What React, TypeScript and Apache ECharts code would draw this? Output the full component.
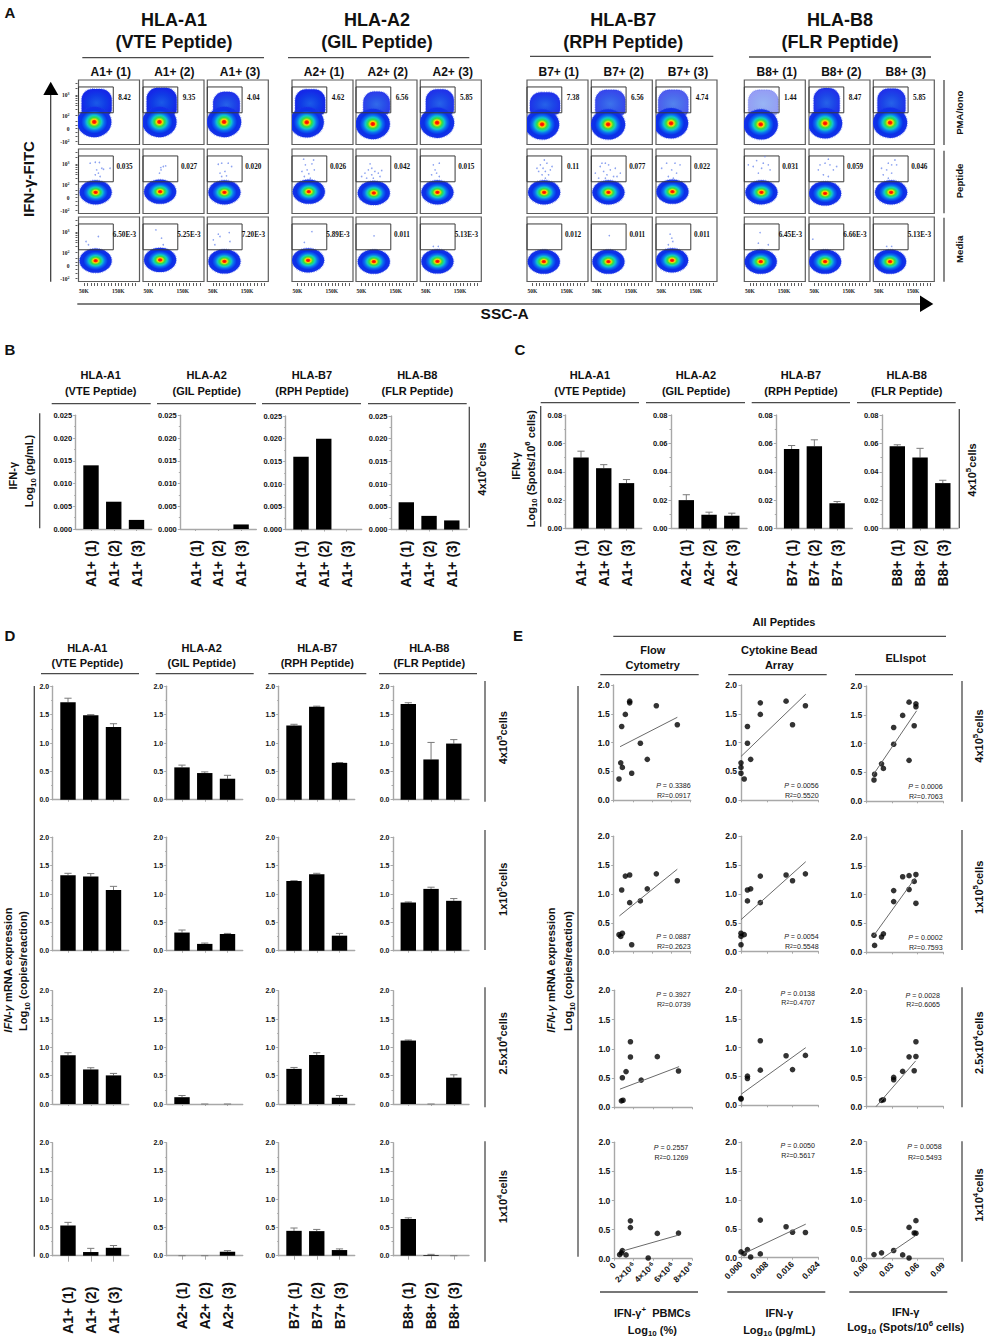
import React, { useEffect, useRef } from "react";
import * as echarts from "echarts";

/* ---------- Panel A: flow cytometry ---------- */
const flowPeptides = ["HLA-A1", "HLA-A2", "HLA-B7", "HLA-B8"];
const flowPeptideNames = ["(VTE Peptide)", "(GIL Peptide)", "(RPH Peptide)", "(FLR Peptide)"];
const flowSamples = ["A1+ (1)", "A1+ (2)", "A1+ (3)", "A2+ (1)", "A2+ (2)", "A2+ (3)", "B7+ (1)", "B7+ (2)", "B7+ (3)", "B8+ (1)", "B8+ (2)", "B8+ (3)"];
const flowConditions = ["PMA/Iono", "Peptide", "Media"];
const gatePmaIono = ["8.42", "9.35", "4.04", "4.62", "6.56", "5.85", "7.38", "6.56", "4.74", "1.44", "8.47", "5.85"];
const gatePeptide = ["0.035", "0.027", "0.020", "0.026", "0.042", "0.015", "0.11", "0.077", "0.022", "0.031", "0.059", "0.046"];
const gateMedia = ["6.50E-3", "5.25E-3", "7.20E-3", "5.89E-3", "0.011", "5.13E-3", "0.012", "0.011", "0.011", "6.45E-3", "6.66E-3", "5.13E-3"];
// main population: centre on SSC (K) and on the display scale of IFN-γ
const coreXPma = [80, 82, 83, 77, 83, 83, 78, 83, 78, 82, 81, 83];
const coreYPma = [0.52, 0.52, 0.52, 0.49, 0.36, 0.46, 0.33, 0.33, 0.41, 0.33, 0.41, 0.46];
const coreXPeptide = [84, 84, 84, 83, 86, 84, 84, 84, 82, 84, 81, 86];
const coreYPeptide = [0.41, 0.46, 0.41, 0.46, 0.36, 0.41, 0.41, 0.41, 0.46, 0.41, 0.33, 0.41];
const coreXMedia = [84, 84, 84, 81, 86, 84, 83, 84, 81, 82, 81, 83];
const coreYMedia = [0.38, 0.44, 0.33, 0.41, 0.31, 0.33, 0.31, 0.31, 0.41, 0.31, 0.31, 0.31];
// IFN-γ+ population under PMA/Iono
const upperX = [87, 88.5, 90, 87, 94, 91, 86.5, 89.5, 84.5, 89.5, 85.6, 87];
const upperRx = [44, 44, 39, 44, 39, 41, 44, 44, 44, 44, 38, 41];
const upperY = [2.08, 2.12, 1.95, 2.05, 1.98, 2.05, 1.95, 2.02, 2.02, 2.02, 2.1, 2.08];
const upperRy = [1.0, 1.05, 0.9, 1.0, 0.9, 1.0, 0.88, 1.0, 1.0, 1.0, 1.05, 1.03];
const upperDensity = [1, 1, 0.95, 1, 0.9, 0.95, 0.95, 0.85, 0.75, 0.45, 0.95, 0.95];
// rare events
const eventsPeptide = [
  [[68, 2.67], [83, 2.74], [95, 2.72], [87, 2.15], [92, 1.9], [102, 2.28], [126, 2.28], [83, 1.77], [97, 1.64], [107, 2.2]],
  [[86, 2.33], [93.3, 2.41], [100, 2.46], [82, 1.9], [86.5, 2.15]],
  [[66, 2.59], [76, 2.67], [95, 2.67], [105, 2.41], [71, 1.9], [85.5, 2.03], [76, 1.64], [90, 1.69]],
  [[68, 2.98], [97, 2.92], [73, 2.54], [92, 2.62], [78, 2.15], [83, 1.85], [63, 2.03], [99, 2.15], [87.5, 1.51], [70, 1.64]],
  [[75, 2.62], [80, 2.28], [70, 2.15], [89, 2.03], [99, 1.9], [60, 1.9], [80, 1.77], [50.5, 1.64], [109, 2.1], [84.5, 1.51], [65, 1.51], [104, 1.64]],
  [[72, 2.54], [89.4, 2.67], [77, 2.15], [81.6, 1.9], [67, 1.77], [89.4, 1.64]],
  [[84.5, 2.92], [73, 2.54], [92, 2.67], [80.7, 2.28], [102, 2.15], [68, 2.03], [87.5, 2.03], [97, 1.77], [78, 1.77], [107, 2.41], [87.5, 1.51], [63, 2.28]],
  [[75, 2.67], [84.5, 2.54], [60, 2.41], [89.4, 2.15], [70, 2.03], [104, 2.28], [45.7, 1.9], [79.7, 1.77], [99, 1.64], [55.4, 1.51], [118.6, 1.9], [75, 1.51], [65, 2.67], [109, 1.64]],
  [[65, 2.67], [89.4, 2.67], [104, 2.54], [79.7, 2.15], [94, 1.9], [70, 1.64], [84.5, 1.51], [50.5, 2.28]],
  [[94, 3.18], [70, 2.87], [89.4, 2.67], [104, 2.54], [60, 2.41], [84.5, 2.28], [109, 2.15], [75, 1.9], [45.7, 2.54]],
  [[90.4, 2.98], [66, 2.54], [80.8, 2.67], [95, 2.54], [105, 2.15], [61, 2.15], [76, 1.77], [90.4, 1.64], [114.7, 2.41]],
  [[97, 2.92], [77.7, 2.67], [87.5, 2.54], [72.9, 2.15], [102, 2.54], [63, 1.77], [87.5, 1.9], [77.7, 1.51], [58, 2.28]],
];
const eventsMedia = [
  [[92, 2.26], [56, 1.87], [63, 1.62]],
  [[88, 2.13], [71.5, 2.77], [93, 1.62]],
  [[66, 2.44], [98, 2.56], [51.5, 2], [71, 2.26], [100, 1.87], [56, 1.62]],
  [[92, 2.64], [70, 1.8]],
  [[86.5, 2.31]],
  [[72, 1.49], [86.5, 1.49]],
  [],
  [[86.5, 2.33]],
  [[75, 2.44], [80, 2.13], [83, 1.87], [70, 1.62]],
  [[80, 2.56], [75, 1.74], [104, 1.62]],
  [[45, 2.05]],
  [[73, 1.49], [87.5, 1.49]],
];

/* ---------- Panels B, C: cytokine bars ---------- */
const peptideHeads = ["HLA-A1", "HLA-A2", "HLA-B7", "HLA-B8"];
const peptideSubs = ["(VTE Peptide)", "(GIL Peptide)", "(RPH Peptide)", "(FLR Peptide)"];
const labelsA1 = ["A1+ (1)", "A1+ (2)", "A1+ (3)"];
const labelsA2 = ["A2+ (1)", "A2+ (2)", "A2+ (3)"];
const labelsB7 = ["B7+ (1)", "B7+ (2)", "B7+ (3)"];
const labelsB8 = ["B8+ (1)", "B8+ (2)", "B8+ (3)"];
const cbaValues = [0.014, 0.006, 0.002, 0, 0, 0.001, 0.016, 0.02, 0, 0.006, 0.003, 0.002];
const elispotValues = [0.05, 0.0425, 0.032, 0.02, 0.0097, 0.009, 0.056, 0.058, 0.0178, 0.058, 0.05, 0.032];
const elispotErrTop = [0.0545, 0.045, 0.0345, 0.0238, 0.0115, 0.0108, 0.0585, 0.0625, 0.019, 0.059, 0.0565, 0.034];

/* ---------- Panel D: mRNA bars ---------- */
const mrna4e5 = [1.72, 1.49, 1.28, 0.57, 0.47, 0.37, 1.31, 1.64, 0.65, 1.69, 0.71, 0.99];
const mrna4e5Err = [1.79, 1.5, 1.34, 0.61, 0.49, 0.43, 1.33, 1.65, 0.655, 1.71, 1.01, 1.06];
const mrna1e5 = [1.33, 1.31, 1.07, 0.32, 0.12, 0.295, 1.23, 1.35, 0.265, 0.85, 1.09, 0.88];
const mrna1e5Err = [1.365, 1.36, 1.135, 0.365, 0.135, 0.305, 1.235, 1.365, 0.305, 0.86, 1.12, 0.92];
const mrna25e4 = [0.86, 0.61, 0.505, 0.12, 0, 0, 0.62, 0.865, 0.11, 1.12, 0, 0.465];
const mrna25e4Err = [0.905, 0.64, 0.54, 0.15, 0, 0, 0.645, 0.905, 0.15, 1.13, 0, 0.515];
const mrna1e4 = [0.535, 0.065, 0.14, 0, 0, 0.07, 0.44, 0.435, 0.1, 0.65, 0.012, 0];
const mrna1e4Err = [0.59, 0.13, 0.18, 0, 0, 0.09, 0.49, 0.465, 0.12, 0.67, 0.024, 0];

/* ---------- Panel E: correlations ---------- */
const flowFrequency = [1.66, 1.21, 0.83, 0.9, 1.87, 0.55, 6.61, 4.43, 0.73, 1.66, 3.49, 2.77];
const regFlow = [
  [[0.66, 0.93], [6.61, 1.44]],
  [[0.59, 0.62], [6.61, 1.43]],
  [[0.58, 0.31], [6.67, 0.695]],
  [[0.92, 0.135], [6.6, 0.405]],
];
const regCba = [
  [[0, 0.76], [0.0201, 1.84]],
  [[0, 0.555], [0.0201, 1.56]],
  [[0, 0.19], [0.0201, 1.0]],
  [[0.001, 0.075], [0.0201, 0.58]],
];
const regElispot = [
  [[0.0074, 0.445], [0.0588, 1.57]],
  [[0.0082, 0.28], [0.0577, 1.3]],
  [[0.0113, 0], [0.0577, 0.79]],
  [[0.018, 0], [0.0577, 0.395]],
];
const statsP = [
  ["0.3386", "0.0056", "0.0006"],
  ["0.0887", "0.0054", "0.0002"],
  ["0.3927", "0.0138", "0.0028"],
  ["0.2557", "0.0050", "0.0058"],
];
const statsR2 = [
  ["0.0917", "0.5520", "0.7063"],
  ["0.2623", "0.5548", "0.7593"],
  ["0.0739", "0.4707", "0.6065"],
  ["0.1269", "0.5617", "0.5493"],
];

/* ---------- layout ---------- */
const SANS = "Liberation Sans";
const SERIF = "Liberation Serif";
const INK = "#111";
const RULE = "#4a4a4a";
const AXIS = "#a8a8a8";

function buildOption() {
  const grids: any[] = [];
  const xAxes: any[] = [];
  const yAxes: any[] = [];
  const series: any[] = [];
  const graphics: any[] = [];

  const rich = (size: number, weight: string = "bold") => {
    const base = { fontFamily: SANS, fontWeight: weight, fill: INK, color: INK };
    return {
      n: { ...base, fontSize: size, lineHeight: size * 1.4, verticalAlign: "middle" },
      i: { ...base, fontSize: size, fontStyle: "italic", lineHeight: size * 1.4, verticalAlign: "middle" },
      sub: { ...base, fontSize: size * 0.72, verticalAlign: "bottom" },
      sup: { ...base, fontSize: size * 0.72, verticalAlign: "top" },
    };
  };
  const text = (str: string, x: number, y: number, o: any = {}) =>
    graphics.push({
      type: "text",
      x,
      y,
      rotation: o.rot || 0,
      silent: true,
      z: 20,
      style: {
        text: str,
        x: 0,
        y: 0,
        fontFamily: o.family || SANS,
        fontSize: o.size || 11,
        fontWeight: o.weight || "bold",
        fontStyle: o.style || "normal",
        fill: o.fill || INK,
        align: o.align || "center",
        verticalAlign: "middle",
        rich: o.rich,
      },
    });
  const rule = (x1: number, y1: number, x2: number, y2: number, w = 1.3, c = RULE) =>
    graphics.push({ type: "line", silent: true, z: 15, shape: { x1, y1, x2, y2 }, style: { stroke: c, lineWidth: w } });
  const tri = (points: number[][]) =>
    graphics.push({ type: "polygon", silent: true, z: 15, shape: { points }, style: { fill: "#000" } });
  const VERT = Math.PI / 2;

  /* ---- panel letters ---- */
  text("A", 10, 12.7, { size: 15 });
  text("B", 10, 349, { size: 15 });
  text("C", 520, 349, { size: 15 });
  text("D", 10, 635, { size: 15 });
  text("E", 518, 635, { size: 15 });

  /* ---- panel A ---- */
  const flowHeadX = [174, 377, 623.3, 840];
  const flowHeadRule = [[82.3, 264, 57.7], [288, 469.3, 57.7], [530, 713.3, 56.3], [749, 931, 57]];
  flowPeptides.forEach((h, i) => {
    text(h, flowHeadX[i], 20, { size: 18 });
    text(flowPeptideNames[i], flowHeadX[i], 42, { size: 18 });
    rule(flowHeadRule[i][0], flowHeadRule[i][2], flowHeadRule[i][1], flowHeadRule[i][2]);
  });
  const flowLeft = [78.5, 143, 207.3, 292, 356, 420.3, 527, 591.3, 656, 744.3, 809, 873.3];
  const flowSubX = [110.7, 174.3, 240, 324, 387.7, 452.7, 558.7, 623.7, 688, 776.7, 841.3, 905.7];
  const flowTop = [80, 149, 217];
  const flowRowLabel = [gatePmaIono, gatePeptide, gateMedia];
  const coreX = [coreXPma, coreXPeptide, coreXMedia];
  const coreY = [coreYPma, coreYPeptide, coreYMedia];
  const coreR = [[50, 1.18], [47, 0.94], [47, 0.94]];
  const heat = () =>
    new (echarts as any).graphic.RadialGradient(0.5, 0.5, 0.5, [
      { offset: 0, color: "#ff0000" },
      { offset: 0.1, color: "#ff2a00" },
      { offset: 0.17, color: "#ffd800" },
      { offset: 0.29, color: "#33e040" },
      { offset: 0.43, color: "#10c8c8" },
      { offset: 0.58, color: "#0a6cf0" },
      { offset: 0.76, color: "#0a30e8" },
      { offset: 1, color: "#1630e8" },
    ]);
  const flowMin = 34;
  const flowMax = 212;
  const flowTicks: number[] = [];
  for (let t = 50; t <= 200; t += 10) flowTicks.push(t);
  const flowYTicks = [-1, -0.6, -0.3, 0, 0.3, 0.6, 1, 1.5, 1.8, 2, 2.2, 2.35, 2.5, 2.615, 3.1, 3.5];
  const flowYLabel: Record<string, string> = { "-1": "-10{s|2}", "0": "0", "1": "10{s|2}", "2.615": "10{s|3}" };

  flowSamples.forEach((sample, c) => {
    text(sample, flowSubX[c], 72, { size: 12 });
    flowConditions.forEach((_, r) => {
      const g = grids.length;
      grids.push({
        left: flowLeft[c],
        top: flowTop[r],
        width: 61,
        height: 64.5,
        show: true,
        borderColor: "#5c5c5c",
        borderWidth: 1.2,
        backgroundColor: "#fff",
      });
      const bottom = r === 2;
      xAxes.push({
        gridIndex: g,
        type: "value",
        min: flowMin,
        max: flowMax,
        show: bottom,
        offset: 1.5,
        position: "bottom",
        splitLine: { show: false },
        axisLine: { show: false, onZero: false },
        axisTick: { show: true, customValues: flowTicks, length: 3, lineStyle: { color: "#333", width: 0.8 } },
        axisLabel: {
          show: true,
          customValues: [50, 150],
          formatter: (v: number) => `${v}K`,
          fontFamily: SERIF,
          fontWeight: "bold",
          fontSize: 5.5,
          color: "#222",
          margin: 5,
        },
      });
      yAxes.push({
        gridIndex: g,
        type: "value",
        min: -1.23,
        max: 3.77,
        show: c === 0,
        offset: 1,
        splitLine: { show: false },
        axisLine: { show: false, onZero: false },
        axisTick: { show: true, customValues: flowYTicks, length: 2, lineStyle: { color: "#333", width: 0.8 } },
        axisLabel: {
          show: true,
          customValues: [-1, 0, 1, 2.615],
          formatter: (v: number) => flowYLabel[String(v)] || "",
          fontFamily: SERIF,
          fontWeight: "bold",
          fontSize: 5.5,
          color: "#222",
          margin: 8,
          rich: { s: { fontFamily: SERIF, fontWeight: "bold", fontSize: 4, verticalAlign: "top", color: "#222" } },
        },
      });
      if (r === 0) {
        const d = upperDensity[c];
        series.push({
          type: "custom",
          coordinateSystem: "cartesian2d",
          xAxisIndex: g,
          yAxisIndex: g,
          clip: true,
          silent: true,
          data: [[upperX[c], upperY[c], upperRx[c], upperRy[c]]],
          renderItem: (_p: any, api: any) => {
            const p = api.coord([api.value(0) - api.value(2), api.value(1) + api.value(3)]);
            const q = api.coord([api.value(0) + api.value(2), api.value(1) - api.value(3)]);
            return {
              type: "rect",
              shape: { x: p[0], y: p[1], width: q[0] - p[0], height: q[1] - p[1], r: [11, 11, 5, 5] },
              style: {
                fill: new (echarts as any).graphic.RadialGradient(0.5, 0.55, 0.5, [
                  { offset: 0, color: `rgba(26,90,232,${d})` },
                  { offset: 0.6, color: `rgba(16,60,230,${d})` },
                  { offset: 1, color: `rgba(20,40,232,${d})` },
                ]),
                stroke: `rgba(30,60,235,${d * 0.5})`,
                lineWidth: 1.6,
                lineDash: [0.7, 1],
              },
            };
          },
        });
      }
      series.push({
        type: "custom",
        coordinateSystem: "cartesian2d",
        xAxisIndex: g,
        yAxisIndex: g,
        clip: true,
        silent: true,
        data: [[coreX[r][c], coreY[r][c], coreR[r][0], coreR[r][1]]],
        renderItem: (_p: any, api: any) => {
          const p = api.coord([api.value(0), api.value(1)]);
          const q = api.coord([api.value(0) + api.value(2), api.value(1) + api.value(3)]);
          return {
            type: "ellipse",
            shape: { cx: p[0], cy: p[1], rx: Math.abs(q[0] - p[0]), ry: Math.abs(q[1] - p[1]) },
            style: { fill: heat(), stroke: "rgba(30,60,235,0.5)", lineWidth: 1.6, lineDash: [0.7, 1] },
          };
        },
      });
      const events = r === 1 ? eventsPeptide[c] : r === 2 ? eventsMedia[c] : [];
      if (events.length) {
        series.push({
          type: "scatter",
          xAxisIndex: g,
          yAxisIndex: g,
          silent: true,
          symbolSize: 1.6,
          itemStyle: { color: "#6f8bec" },
          data: events,
        });
      }
      series.push({
        type: "custom",
        coordinateSystem: "cartesian2d",
        xAxisIndex: g,
        yAxisIndex: g,
        silent: true,
        data: [[flowMin, 3.23, 135.5, 1.23]],
        renderItem: (_p: any, api: any) => {
          const a = api.coord([api.value(0), api.value(1)]);
          const b = api.coord([api.value(2), api.value(3)]);
          return {
            type: "rect",
            shape: { x: a[0], y: a[1], width: b[0] - a[0], height: b[1] - a[1] },
            style: { fill: "none", stroke: "#3a3a3a", lineWidth: 1 },
          };
        },
      });
      text(flowRowLabel[r][c], flowLeft[c] + 46, flowTop[r] + 18.3, { family: SERIF, size: 7.2 });
    });
  });
  text("IFN-γ-FITC", 28, 179, { size: 15, rot: VERT });
  rule(50.7, 281.7, 50.7, 92, 1.2, "#333");
  tri([[50.7, 81.7], [43.3, 95], [58.3, 95]]);
  rule(77.3, 304, 922, 304, 1.6, "#555");
  tri([[933.3, 304], [920, 295.5], [920, 312]]);
  text("SSC-A", 504.7, 313, { size: 15.5 });
  const condY = [[80, 145, 112.7], [150.7, 213.3, 181], [217.7, 281.7, 249.3]];
  flowConditions.forEach((cond, i) => {
    rule(944, condY[i][0], 944, condY[i][1]);
    text(cond, 959, condY[i][2], { size: 9.6, rot: VERT });
  });

  /* ---- bar panels ---- */
  const STEP = 22.75;
  const BAND = 76;
  const barXMin = 1 - 15.3 / STEP;
  const barXMax = barXMin + BAND / STEP;
  const addBars = (o: {
    left: number;
    top: number;
    bottom: number;
    values: number[];
    errs?: number[];
    labels?: string[];
    max: number;
    interval: number;
    digits: number;
    tickSize: number;
    labelMargin?: number;
    tickLen?: number;
  }) => {
    const g = grids.length;
    grids.push({ left: o.left, top: o.top, width: BAND, height: o.bottom - o.top, show: false });
    const axisLine = { show: true, onZero: false, lineStyle: { color: AXIS, width: 1.4 } };
    const names = o.labels;
    xAxes.push({
      gridIndex: g,
      type: "value",
      min: barXMin,
      max: barXMax,
      splitLine: { show: false },
      axisLine,
      axisTick: { show: true, customValues: [1, 2, 3], length: o.tickLen ?? 2, lineStyle: { color: AXIS } },
      axisLabel: names
        ? {
            show: true,
            customValues: [1, 2, 3],
            formatter: (v: number) => names[v - 1],
            rotate: 90,
            margin: o.labelMargin ?? 11,
            fontFamily: SANS,
            fontWeight: "bold",
            fontSize: 14,
            color: INK,
          }
        : { show: false },
    });
    yAxes.push({
      gridIndex: g,
      type: "value",
      min: 0,
      max: o.max,
      interval: o.interval,
      splitLine: { show: false },
      axisLine,
      axisTick: { show: true, length: 2.5, lineStyle: { color: AXIS } },
      minorTick: { show: true, splitNumber: 2, length: 1.5, lineStyle: { color: AXIS } },
      axisLabel: {
        show: true,
        formatter: (v: number) => v.toFixed(o.digits),
        fontFamily: SANS,
        fontWeight: "bold",
        fontSize: o.tickSize,
        color: INK,
        margin: 3.5,
      },
    });
    series.push({
      type: "bar",
      xAxisIndex: g,
      yAxisIndex: g,
      silent: true,
      barWidth: 15.4,
      itemStyle: { color: "#000" },
      data: o.values.map((v, i) => [i + 1, v]),
    });
    if (o.errs) {
      series.push({
        type: "custom",
        coordinateSystem: "cartesian2d",
        xAxisIndex: g,
        yAxisIndex: g,
        silent: true,
        z: 1,
        data: o.values.map((v, i) => [i + 1, v, o.errs![i]]),
        renderItem: (_p: any, api: any) => {
          const low = api.coord([api.value(0), api.value(1)]);
          const high = api.coord([api.value(0), api.value(2)]);
          const style = { stroke: "#7a7a7a", lineWidth: 1 };
          return {
            type: "group",
            children: [
              { type: "line", shape: { x1: low[0], y1: low[1], x2: low[0], y2: high[1] }, style },
              { type: "line", shape: { x1: low[0] - 3.6, y1: high[1], x2: low[0] + 3.6, y2: high[1] }, style },
            ],
          };
        },
      });
    }
  };
  const labelGroups = [labelsA1, labelsA2, labelsB7, labelsB8];
  const group = (arr: number[], i: number) => arr.slice(i * 3, i * 3 + 3);
  const rs = rich(11);

  /* panel B */
  const bAxisX = [75.7, 180.3, 285.7, 391];
  const bTop = [415.3, 415.3, 416, 416];
  const bBottom = [529, 529, 529.5, 529.5];
  const bHeadX = [100.7, 206.7, 312, 417.3];
  const bRule = [[51.7, 150.7], [157, 256], [262, 361], [368, 466.7]];
  peptideHeads.forEach((h, i) => {
    text(h, bHeadX[i], 375, { size: 11 });
    text(peptideSubs[i], bHeadX[i], 390.7, { size: 11 });
    rule(bRule[i][0], 403.7, bRule[i][1], 403.7);
    addBars({
      left: bAxisX[i],
      top: bTop[i],
      bottom: bBottom[i],
      values: group(cbaValues, i),
      labels: labelsA1,
      max: 0.025,
      interval: 0.005,
      digits: 3,
      tickSize: 7.5,
    });
  });
  text("IFN-γ", 12.7, 475.7, { size: 11, rot: VERT });
  text("{n|Log}{sub|10}{n| (pg/mL)}", 29.3, 471, { rot: VERT, rich: rs });
  rule(39.7, 413.3, 39.7, 528.3);
  rule(469.3, 406.7, 469.3, 527.7);
  text("{n|4x10}{sup|5}{n|cells}", 481.7, 469, { rot: VERT, rich: rs });

  /* panel C */
  const cAxisX = [565.7, 671, 776.3, 882];
  const cHeadX = [590, 696, 801, 906.7];
  const cRule = [[540.7, 639], [646, 745], [751.7, 850], [857, 955.7]];
  peptideHeads.forEach((h, i) => {
    text(h, cHeadX[i], 375, { size: 11 });
    text(peptideSubs[i], cHeadX[i], 390.7, { size: 11 });
    rule(cRule[i][0], 402.7, cRule[i][1], 402.7);
    addBars({
      left: cAxisX[i],
      top: 415,
      bottom: 528.5,
      values: group(elispotValues, i),
      errs: group(elispotErrTop, i),
      labels: labelGroups[i],
      max: 0.08,
      interval: 0.02,
      digits: 2,
      tickSize: 7.5,
    });
  });
  text("IFN-γ", 516, 466, { size: 11, rot: VERT });
  text("{n|Log}{sub|10}{n| (Spots/10}{sup|6}{n| cells)}", 530.7, 468.7, { rot: VERT, rich: rs });
  rule(540.7, 406, 540.7, 526.7);
  rule(959.3, 409, 959.3, 528.3);
  text("{n|4x10}{sup|5}{n|cells}", 971.7, 470, { rot: VERT, rich: rs });

  /* panel D */
  const dAxisX = [52.7, 166.7, 278.7, 393];
  const dHeadX = [87.3, 201.7, 317.3, 429.3];
  const dRule = [[41, 139], [155.7, 253.7], [268.3, 366.3], [379, 477]];
  const dRows = [[686.3, 799.7], [837.3, 950.7], [990.7, 1104], [1142.7, 1255.7]];
  const dValues = [mrna4e5, mrna1e5, mrna25e4, mrna1e4];
  const dErrs = [mrna4e5Err, mrna1e5Err, mrna25e4Err, mrna1e4Err];
  peptideHeads.forEach((h, i) => {
    text(h, dHeadX[i], 648.3, { size: 11 });
    text(peptideSubs[i], dHeadX[i], 663.3, { size: 11 });
    rule(dRule[i][0], 673.7, dRule[i][1], 673.7);
    dRows.forEach((row, r) => {
      addBars({
        left: dAxisX[i],
        top: row[0],
        bottom: row[1],
        values: group(dValues[r], i),
        errs: group(dErrs[r], i),
        labels: r === 3 ? labelGroups[i] : undefined,
        labelMargin: i === 0 ? 31 : 26.5,
        tickLen: r === 3 ? (i === 0 ? 6 : 4) : 2,
        max: 2,
        interval: 0.5,
        digits: 1,
        tickSize: 7,
      });
    });
  });
  const dSpan = [[681, 801.7], [830, 950], [987.3, 1107.3], [1141.3, 1261.7]];
  const cellLabels = ["{n|4x10}{sup|5}{n|cells}", "{n|1x10}{sup|5}{n|cells}", "{n|2.5x10}{sup|4}{n|cells}", "{n|1x10}{sup|4}{n|cells}"];
  const dCellY = [737.7, 889.3, 1043.3, 1196.7];
  const eCellY = [736, 887.3, 1042.7, 1195];
  dSpan.forEach((s, r) => {
    rule(485, s[0], 485, s[1]);
    text(cellLabels[r], 503.3, dCellY[r], { rot: VERT, rich: rs });
    rule(962, s[0], 962, s[1]);
    text(cellLabels[r], 979.3, eCellY[r], { rot: VERT, rich: rs });
  });
  rule(34.3, 686, 34.3, 1256.7);
  text("{i|IFN-γ}{n| mRNA expression}", 7.5, 970, { rot: VERT, rich: rs });
  text("{n|Log}{sub|10}{n| (copies/reaction)}", 23.3, 971, { rot: VERT, rich: rs });

  /* panel E */
  text("All Peptides", 784, 621.7, { size: 11 });
  rule(613.3, 636.3, 946, 636.3);
  text("Flow", 652.7, 650, { size: 11 });
  text("Cytometry", 652.7, 665, { size: 11 });
  text("Cytokine Bead", 779.3, 650, { size: 11 });
  text("Array", 779.3, 664.7, { size: 11 });
  text("ELIspot", 905.7, 657.7, { size: 11 });
  rule(600.3, 674.7, 698.7, 674.7);
  rule(728.3, 674.7, 826.7, 674.7);
  rule(855, 674.7, 953, 674.7);
  rule(578, 686, 578, 1256.7);
  text("{i|IFN-γ}{n| mRNA expression}", 550.7, 970, { rot: VERT, rich: rs });
  text("{n|Log}{sub|10}{n| (copies/reaction)}", 568.3, 971, { rot: VERT, rich: rs });

  const eLeft = [
    [613.7, 613.7, 614.3, 614.3],
    [741, 741, 741, 741],
    [866.3, 866.3, 866.3, 866.3],
  ];
  const eWidth = [[77, 77, 77.7, 77.7], [77.3, 77.3, 77.3, 77.3], [77, 77, 77, 77]];
  const eRows = [
    [[685, 800.3], [836.3, 951.7], [990.3, 1107.3], [1142.3, 1258.7]],
    [[685, 800.3], [836.3, 951.7], [990, 1105.3], [1142, 1257.7]],
    [[686, 801.3], [837, 952.3], [990.7, 1106.7], [1141.7, 1258.7]],
  ];
  const eX = [flowFrequency, cbaValues, elispotValues];
  const eMax = [8, 0.024, 0.09];
  const eInterval = [2, 0.008, 0.03];
  const eReg = [regFlow, regCba, regElispot];
  const eFormat = [
    (v: number) => (v === 0 ? "0" : `{n|${v}×10}{s|-6}`),
    (v: number) => v.toFixed(3),
    (v: number) => v.toFixed(2),
  ];
  const statEnd = [
    [690.7, 690.7, 690.7, 688.3],
    [818.7, 818.7, 815, 815],
    [942.7, 942.7, 940, 941.7],
  ];
  const statY = [
    [[786, 795.7], [937.3, 947], [995, 1005], [1148.3, 1158.3]],
    [[786, 795.7], [937.3, 947], [993.7, 1003.3], [1146.3, 1156]],
    [[787.3, 797], [938, 948], [995.7, 1005.3], [1147.3, 1157.7]],
  ];
  const statBase = { fontFamily: SANS, fill: "#222", color: "#222", fontWeight: "normal" };
  const statRich = {
    p: { ...statBase, fontSize: 7.1, fontStyle: "italic" },
    t: { ...statBase, fontSize: 7.1 },
    s: { ...statBase, fontSize: 5, verticalAlign: "top" },
  };
  dValues.forEach((ys, r) => {
    [0, 1, 2].forEach((c) => {
      const g = grids.length;
      const [top, bottom] = eRows[c][r];
      grids.push({ left: eLeft[c][r], top, width: eWidth[c][r], height: bottom - top, show: false });
      const axisLine = { show: true, onZero: false, lineStyle: { color: AXIS, width: 1.4 } };
      xAxes.push({
        gridIndex: g,
        type: "value",
        min: 0,
        max: eMax[c],
        interval: eInterval[c],
        splitLine: { show: false },
        axisLine,
        axisTick: { show: true, length: 2, lineStyle: { color: AXIS } },
        axisLabel:
          r === 3
            ? {
                show: true,
                rotate: 45,
                margin: 5,
                formatter: eFormat[c],
                fontFamily: SANS,
                fontWeight: "bold",
                fontSize: 8.5,
                color: INK,
                rich: {
                  n: { fontFamily: SANS, fontWeight: "bold", fontSize: 8.5, color: INK },
                  s: { fontFamily: SANS, fontWeight: "bold", fontSize: 6, color: INK, verticalAlign: "top" },
                },
              }
            : { show: false },
      });
      yAxes.push({
        gridIndex: g,
        type: "value",
        min: 0,
        max: 2,
        interval: 0.5,
        splitLine: { show: false },
        axisLine,
        axisTick: { show: true, length: 2.5, lineStyle: { color: AXIS } },
        axisLabel: {
          show: true,
          formatter: (v: number) => v.toFixed(1),
          fontFamily: SANS,
          fontWeight: "bold",
          fontSize: 8.5,
          color: INK,
          margin: 4,
        },
      });
      series.push({
        type: "line",
        xAxisIndex: g,
        yAxisIndex: g,
        silent: true,
        showSymbol: false,
        symbol: "none",
        lineStyle: { color: "#6a6a6a", width: 1 },
        data: eReg[c][r],
      });
      series.push({
        type: "scatter",
        xAxisIndex: g,
        yAxisIndex: g,
        silent: true,
        symbolSize: 5.6,
        itemStyle: { color: "#000" },
        data: ys.map((y, i) => [eX[c][i], y]).filter((p) => p[1] > 0),
      });
      text(`{p|P}{t| = ${statsP[r][c]}}`, statEnd[c][r], statY[c][r][0], { align: "right", rich: statRich });
      text(`{t|R}{s|2}{t|=${statsR2[r][c]}}`, statEnd[c][r], statY[c][r][1], { align: "right", rich: statRich });
    });
  });
  rule(600, 1292, 698, 1292);
  rule(727.3, 1292, 825.3, 1292);
  rule(849.3, 1292, 947.3, 1292);
  text("{n|IFN-γ}{sup|+}{n|  PBMCs}", 652.3, 1313, { rich: rs });
  text("{n|Log}{sub|10}{n| (%)}", 652.3, 1330, { rich: rs });
  text("IFN-γ", 779.3, 1313, { size: 11 });
  text("{n|Log}{sub|10}{n| (pg/mL)}", 779.3, 1330, { rich: rs });
  text("IFN-γ", 905.7, 1312.3, { size: 11 });
  text("{n|Log}{sub|10}{n| (Spots/10}{sup|6}{n| cells)}", 905.7, 1327.3, { rich: rs });

  return {
    animation: false,
    backgroundColor: "#fff",
    textStyle: { fontFamily: SANS },
    grid: grids,
    xAxis: xAxes,
    yAxis: yAxes,
    series,
    graphic: { elements: graphics },
  };
}

export default function App() {
  const ref = useRef<HTMLDivElement>(null);
  useEffect(() => {
    if (!ref.current) return;
    const chart = echarts.init(ref.current, undefined, { renderer: "svg" });
    chart.setOption(buildOption() as any);
    return () => chart.dispose();
  }, []);
  return <div ref={ref} style={{ position: "absolute", left: 0, top: 0, width: 988, height: 1339 }} />;
}
